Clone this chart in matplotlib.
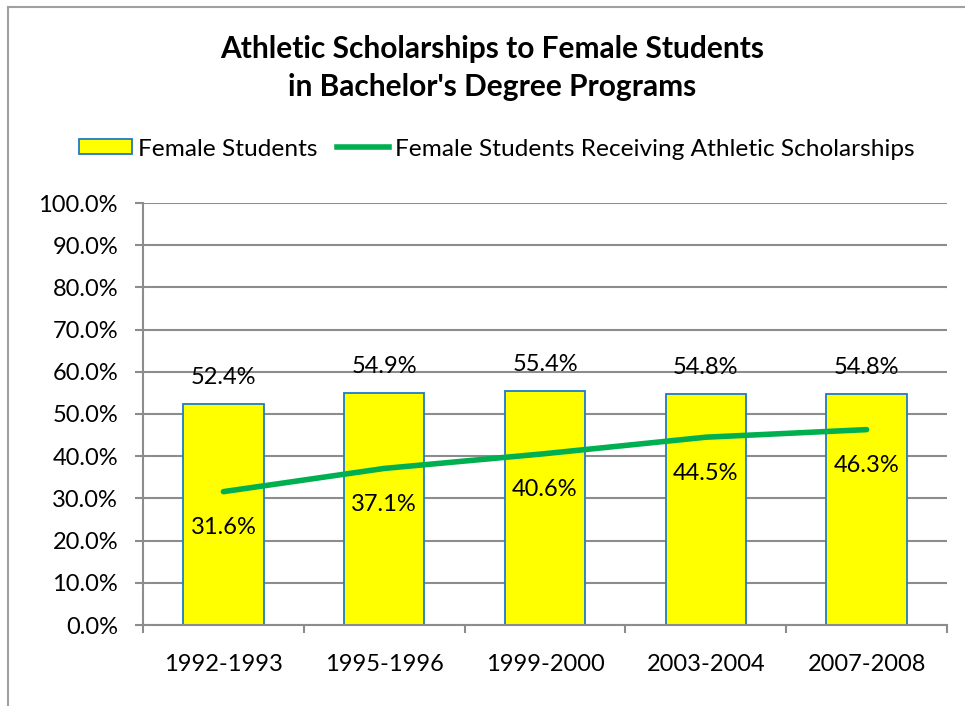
import matplotlib
matplotlib.use("Agg")
import matplotlib.pyplot as plt
from matplotlib.lines import Line2D
from matplotlib.patches import Patch

plt.rcParams['font.family'] = ['Lato', 'DejaVu Sans']

periods = ["1992-1993", "1995-1996", "1999-2000", "2003-2004", "2007-2008"]
female_students = [52.4, 54.9, 55.4, 54.8, 54.8]
athletic_scholarships = [31.6, 37.1, 40.6, 44.5, 46.3]
yticks = [0, 10, 20, 30, 40, 50, 60, 70, 80, 90, 100]

BAR_FACE = "#FFFF00"
BAR_EDGE = "#1F7BC8"
LINE_COLOR = "#00B050"
GRID = "#8C8C8C"
FS = 17

fig = plt.figure(figsize=(9.65, 7.06), dpi=100)
ax = fig.add_axes([143/965, 1-625/706, (947-143)/965, (625-203)/706])

x = list(range(len(periods)))
ax.bar(x, female_students, width=0.5, color=BAR_FACE, edgecolor=BAR_EDGE, linewidth=1.3, zorder=2)
ax.plot(x, athletic_scholarships, color=LINE_COLOR, linewidth=4, solid_capstyle='round', zorder=3)

for xi, v in zip(x, female_students):
    ax.annotate(f"{v:.1f}%", (xi, v), xytext=(0, 19), textcoords='offset points',
                ha='center', va='center', fontsize=FS, zorder=4)
for xi, v in zip(x, athletic_scholarships):
    ax.annotate(f"{v:.1f}%", (xi, v), xytext=(0, -26), textcoords='offset points',
                ha='center', va='center', fontsize=FS, zorder=4)

ax.set_xlim(-0.5, len(periods) - 0.5)
ax.set_ylim(0, 100)
ax.set_yticks(yticks)
ax.set_yticklabels([f"{t:.1f}%" for t in yticks])
ax.set_xticks(x)
ax.set_xticklabels(periods)
ax.set_xticks([i - 0.5 for i in range(len(periods) + 1)], minor=True)

ax.yaxis.grid(True, color=GRID, linewidth=1.5, zorder=0)
ax.set_axisbelow(True)
for s in ['top', 'right']:
    ax.spines[s].set_visible(False)
for s in ['left', 'bottom']:
    ax.spines[s].set_color(GRID)
    ax.spines[s].set_linewidth(1.5)

ax.tick_params(axis='y', which='major', length=6, width=1.5, color=GRID, pad=12, labelsize=FS)
ax.tick_params(axis='x', which='major', length=0, pad=21, labelsize=FS)
ax.tick_params(axis='x', which='minor', length=6, width=1.5, color=GRID)

fig.text(492/965, 1-68/706, "Athletic Scholarships to Female Students\nin Bachelor's Degree Programs",
         ha='center', va='center', fontsize=21.5, fontweight='bold', linespacing=1.42)

handles = [Patch(facecolor=BAR_FACE, edgecolor=BAR_EDGE, linewidth=1.3),
           Line2D([0], [0], color=LINE_COLOR, linewidth=4)]
fig.legend(handles, ["Female Students", "Female Students Receiving Athletic Scholarships"],
           loc='center', bbox_to_anchor=(497/965, 1-149/706), ncol=2, frameon=False,
           fontsize=17.6, handlelength=2.15, handletextpad=0.25, columnspacing=0.8,
           handleheight=0.55)

fig.add_artist(Line2D([8/965, 1], [1-7/706, 1-7/706], color="#A0A0A0", linewidth=1.5))
fig.add_artist(Line2D([8/965, 8/965], [0, 1-7/706], color="#A0A0A0", linewidth=1.5))

fig.savefig("out.png", dpi=100)
